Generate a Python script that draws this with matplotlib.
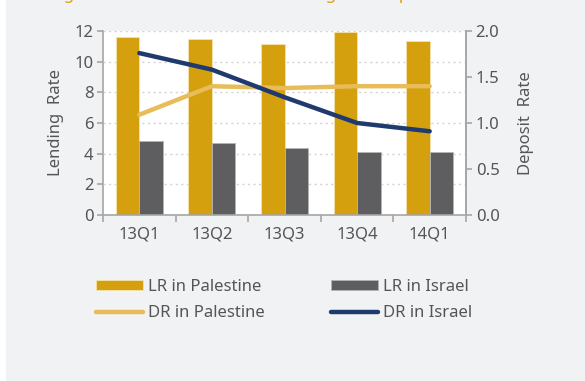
"""Lending and deposit rates, Palestine vs Israel (quarterly)."""

import matplotlib.pyplot as plt
import numpy as np
from matplotlib.patches import Rectangle

plt.rcParams["font.family"] = ["Noto Sans", "DejaVu Sans"]

quarters = ["13Q1", "13Q2", "13Q3", "13Q4", "14Q1"]
lr_palestine = [11.63, 11.48, 11.15, 11.96, 11.33]
lr_israel = [4.85, 4.67, 4.37, 4.13, 4.13]
dr_palestine = [1.09, 1.40, 1.38, 1.40, 1.40]
dr_israel = [1.76, 1.58, 1.28, 1.00, 0.91]

GOLD = "#D4A00E"
GREY = "#5E5E60"
LIGHT_GOLD = "#E8BC58"
NAVY = "#1E3A6F"
TEXT = "#555555"
SPINE = "#A6A6A6"
BG = "#F1F2F4"
FS = 12

fig = plt.figure(figsize=(5.85, 3.81), dpi=100, facecolor="white")
fig.patches.append(
    Rectangle((6 / 585, 0), 1, 1, transform=fig.transFigure, color=BG, zorder=-10)
)

# clipped title at the very top of the original (only descenders visible)
fig.text(
    50 / 585, 1 + 1 / 381, "Figure 7: Interest Rates on Lending and Deposit",
    color="#E3A21A", fontsize=12.5, ha="left", va="baseline",
)

ax = fig.add_axes([103 / 585, 1 - 215 / 381, 363 / 585, 184 / 381])
ax.set_facecolor("white")
x = np.arange(len(quarters))
width = 0.325

ax.bar(x - width / 2, lr_palestine, width, color=GOLD, edgecolor="#F3E2B0",
       linewidth=0.6, label="LR in Palestine", zorder=2)
ax.bar(x + width / 2, lr_israel, width, color=GREY, edgecolor="#B5B5B5",
       linewidth=0.6, label="LR in Israel", zorder=2)

ax.set_xlim(-0.5, len(quarters) - 0.5)
ax.set_ylim(0, 12)
ax.set_yticks(range(0, 13, 2))
ax.set_xticks(x)
ax.set_xticklabels(quarters)
ax.set_xticks(np.arange(-0.5, len(quarters)), minor=True)
ax.tick_params(axis="x", which="major", length=0, pad=8, labelsize=FS, labelcolor=TEXT)
ax.tick_params(axis="x", which="minor", length=5, width=1.2, color=SPINE)
ax.tick_params(axis="y", length=4, width=1.2, color=SPINE, labelsize=FS,
               labelcolor=TEXT, pad=3)
ax.set_axisbelow(True)
ax.grid(axis="y", linestyle=(0, (1.5, 2.5)), color="#D3D3D3", linewidth=1.0)
ax.spines["top"].set_visible(False)
for side in ["left", "bottom", "right"]:
    ax.spines[side].set_color(SPINE)
    ax.spines[side].set_linewidth(1.2)
ax.set_ylabel("Lending  Rate", fontsize=FS, color=TEXT, labelpad=7)

ax2 = ax.twinx()
ax2.plot(x, dr_palestine, color=LIGHT_GOLD, linewidth=3.2, label="DR in Palestine",
         solid_capstyle="round")
ax2.plot(x, dr_israel, color=NAVY, linewidth=3.2, label="DR in Israel",
         solid_capstyle="round")
ax2.set_ylim(0, 2.0)
ax2.set_yticks(np.arange(0, 2.01, 0.5))
ax2.set_yticklabels([f"{v:.1f}" for v in np.arange(0, 2.01, 0.5)])
ax2.tick_params(axis="y", length=4, width=1.2, color=SPINE, labelsize=FS,
                labelcolor=TEXT, pad=3)
for side in ["top", "left", "bottom"]:
    ax2.spines[side].set_visible(False)
ax2.spines["right"].set_color(SPINE)
ax2.spines["right"].set_linewidth(1.2)
ax2.set_ylabel("Deposit  Rate", fontsize=FS, color=TEXT, labelpad=13)

handles1, labels1 = ax.get_legend_handles_labels()
handles2, labels2 = ax2.get_legend_handles_labels()
handles = [handles1[0], handles2[0], handles1[1], handles2[1]]
labels = [labels1[0], labels2[0], labels1[1], labels2[1]]
fig.legend(
    handles, labels, ncol=2, loc="upper left",
    bbox_to_anchor=(96 / 585, 1 - 279 / 381), frameon=False,
    fontsize=FS, labelcolor=TEXT, handlelength=2.8, handleheight=0.6,
    handletextpad=0.3, columnspacing=4.0, labelspacing=0.62,
    borderpad=0, borderaxespad=0,
)

fig.savefig("out.png", dpi=100, facecolor=fig.get_facecolor())
